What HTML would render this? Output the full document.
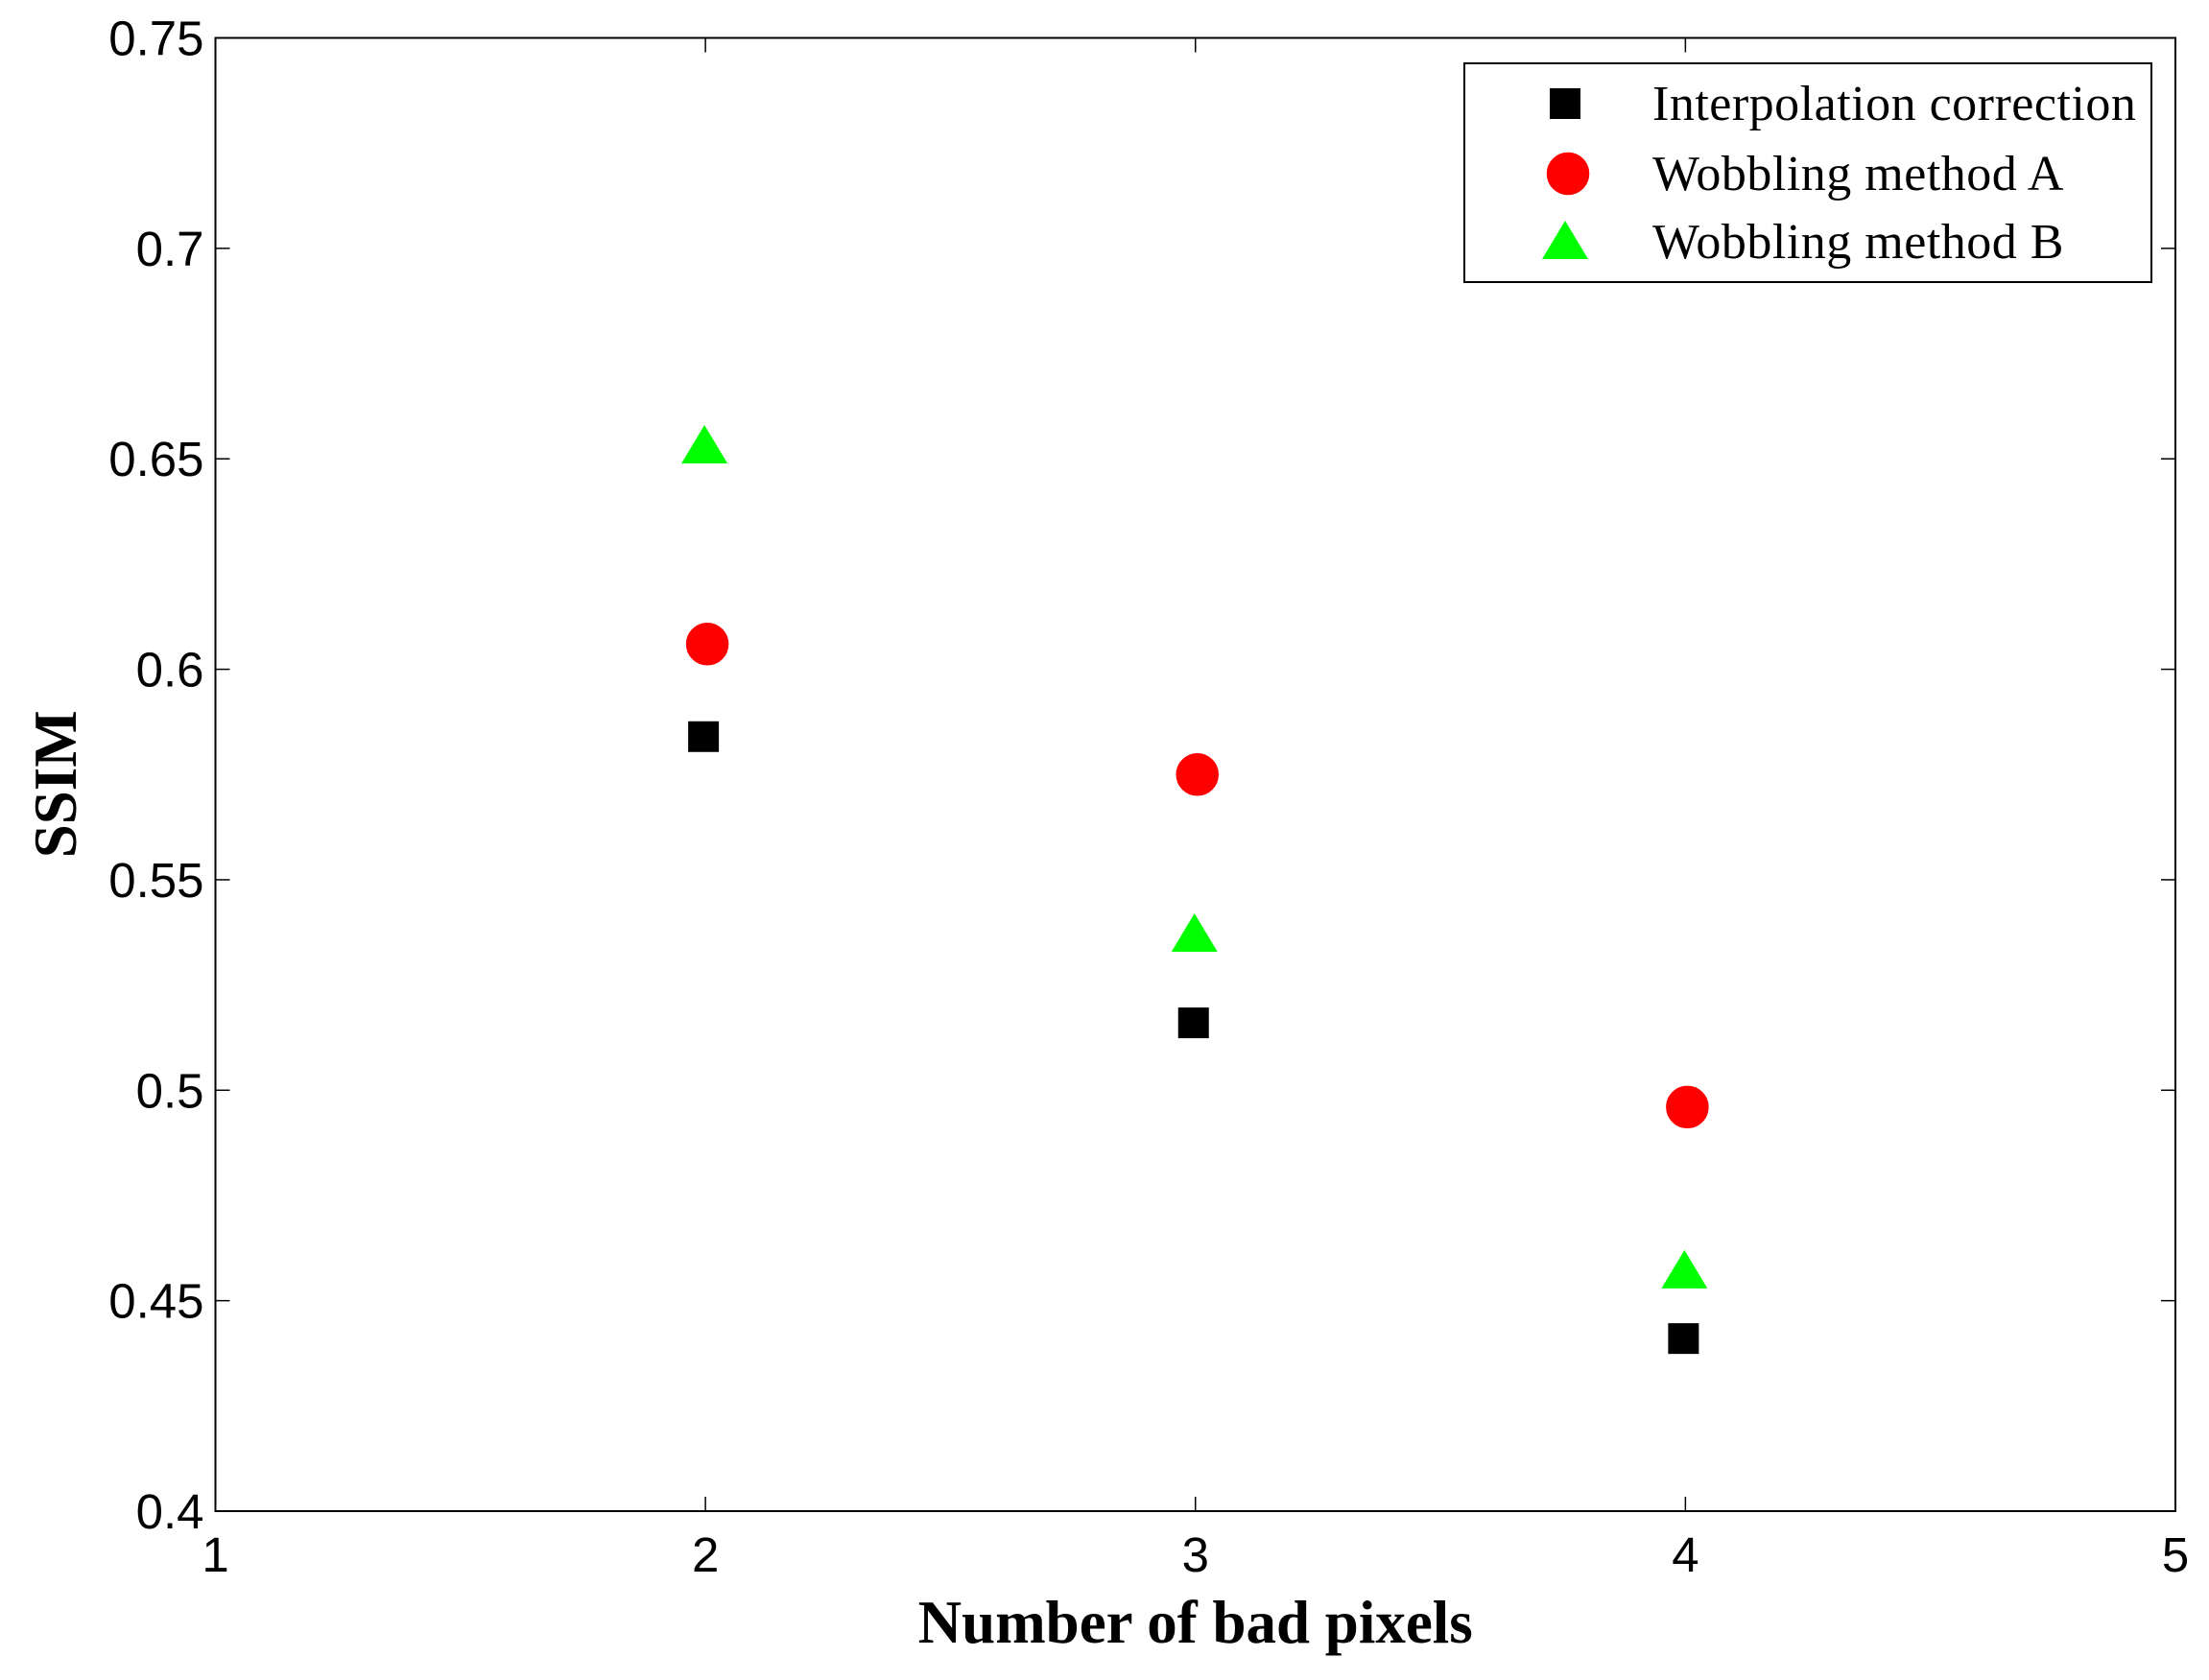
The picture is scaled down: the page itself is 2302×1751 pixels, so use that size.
<!DOCTYPE html>
<html><head><meta charset="utf-8"><style>html,body{margin:0;padding:0;background:#fff}svg{display:block}</style></head>
<body>
<svg id="chart" width="2302" height="1751" viewBox="0 0 2302 1751" xmlns="http://www.w3.org/2000/svg"></svg>
<script>
const categories = [2, 3, 4];
const interpValues = [0.584, 0.516, 0.441];
const wobbleAValues = [0.606, 0.575, 0.496];
const wobbleBValues = [0.653, 0.537, 0.457];
const xTicks = [1, 2, 3, 4, 5];
const yTicks = [0.4, 0.45, 0.5, 0.55, 0.6, 0.65, 0.7, 0.75];
const yTickLabels = ['0.4','0.45','0.5','0.55','0.6','0.65','0.7','0.75'];

const L=224.5, R=2267, T=39.5, B=1575;
const xs = v => L + (v-1)/(5-1)*(R-L);
const ys = v => B - (v-0.4)/(0.75-0.4)*(B-T);
const svg = document.getElementById('chart');
const NS='http://www.w3.org/2000/svg';
function mk(tag, attrs, parent){const e=document.createElementNS(NS,tag);for(const k in attrs)e.setAttribute(k,attrs[k]);(parent||svg).appendChild(e);return e;}

const frame = mk('rect',{x:L,y:T,width:R-L,height:B-T,fill:'none',stroke:'#000','stroke-width':2});



xTicks.forEach(t=>{
  const x=xs(t);
  const a=mk('line',{x1:x,y1:B,x2:x,y2:B-15,stroke:'#000','stroke-width':1.5});
  
  
  const b=mk('line',{x1:x,y1:T,x2:x,y2:T+15,stroke:'#000','stroke-width':1.5});
  
  
  const tx=mk('text',{x:x,y:B+63,'text-anchor':'middle','font-family':'Liberation Sans, Arial, sans-serif','font-size':51});
  tx.textContent=String(t);
  
  
});
yTicks.forEach((t,i)=>{
  const y=ys(t);
  const a=mk('line',{x1:L,y1:y,x2:L+15,y2:y,stroke:'#000','stroke-width':1.5});
  
  
  const b=mk('line',{x1:R,y1:y,x2:R-15,y2:y,stroke:'#000','stroke-width':1.5});
  
  
  const tx=mk('text',{x:L-12,y:y+18,'text-anchor':'end','font-family':'Liberation Sans, Arial, sans-serif','font-size':51});
  tx.textContent=yTickLabels[i];
  
  
});

const xl=mk('text',{x:(L+R)/2,y:1712,'text-anchor':'middle','font-family':'Liberation Serif, serif','font-size':63,'font-weight':'bold'});
xl.textContent='Number of bad pixels';


const yl=mk('text',{x:0,y:0,'text-anchor':'middle','font-family':'Liberation Serif, serif','font-size':63,'font-weight':'bold',transform:`translate(79,${(T+B)/2+10}) rotate(-90)`});
yl.textContent='SSIM';



function square(cx,cy){return mk('rect',{x:cx-16,y:cy-16,width:32,height:32,fill:'#000'});}
function circle(cx,cy){return mk('circle',{cx:cx,cy:cy,r:23,fill:'#f00',stroke:'#fff','stroke-width':1.5});}
function tri(cx,cy){return mk('polygon',{points:`${cx},${cy-22} ${cx-24},${cy+18} ${cx+24},${cy+18}`,fill:'#0f0'});}

categories.forEach((c,i)=>{
  const s=square(xs(c)-2,ys(interpValues[i]));
  
  
  const ci=circle(xs(c)+2,ys(wobbleAValues[i]));
  
  
  const t=tri(xs(c)-1,ys(wobbleBValues[i]));
  
  
});

const lg=mk('g',{});


mk('rect',{x:1526,y:66,width:716,height:228,fill:'#fff',stroke:'#000','stroke-width':2},lg);
const labels=['Interpolation correction','Wobbling method A','Wobbling method B'];
const rowsY=[108,181,252];
const s1=square(1631,rowsY[0]); lg.appendChild(s1);
const c1=circle(1634,rowsY[1]); lg.appendChild(c1);
const t1=tri(1631,rowsY[2]); lg.appendChild(t1);
labels.forEach((lb,i)=>{
  const tx=mk('text',{x:1722,y:rowsY[i]+17,'font-family':'Liberation Serif, serif','font-size':52,'letter-spacing':0.5},lg);
  tx.textContent=lb;
  
  
});
</script>
</body></html>
